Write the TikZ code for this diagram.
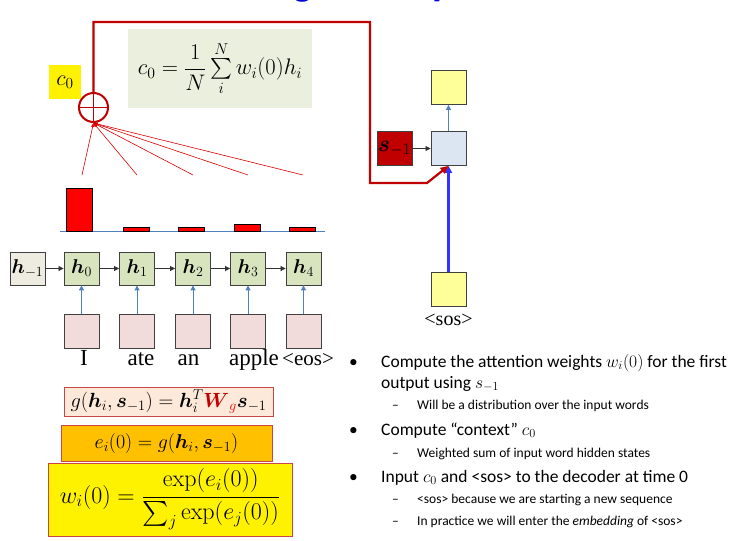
\RequirePackage{fix-cm}
\documentclass[tikz,border=0pt]{standalone}
\usepackage{amsmath,bm}
\usepackage[no-math]{fontspec}
\setmainfont{Carlito}
\newfontfamily\tms{Liberation Serif}
\usetikzlibrary{arrows.meta}
\definecolor{dred}{RGB}{192,0,0}
\definecolor{hgreen}{RGB}{215,228,189}
\definecolor{hbeige}{RGB}{238,236,225}
\definecolor{inpink}{RGB}{242,220,219}
\definecolor{steel}{RGB}{79,129,189}
\definecolor{fbox}{RGB}{235,240,222}
\definecolor{gpink}{RGB}{253,233,217}
\definecolor{eorange}{RGB}{255,192,0}
\definecolor{bred}{RGB}{200,70,70}
\definecolor{lyel}{RGB}{255,255,153}
\definecolor{dblue}{RGB}{220,230,242}
\definecolor{tblue}{RGB}{0,0,210}
\definecolor{sosblue}{RGB}{51,51,255}
\begin{document}
\begin{tikzpicture}[x=1pt,y=-1pt,
  cell/.style={draw=black!75, line width=0.8pt, minimum width=35, minimum height=34, inner sep=0},
  hcell/.style={cell, fill=hgreen, minimum height=33, font=\fontsize{20}{22}\selectfont},
  incell/.style={cell, fill=inpink},
  word/.style={font=\tms\fontsize{23}{26}\selectfont, inner sep=0, anchor=base},
  harr/.style={draw=black!80, line width=0.7pt, -{Triangle[length=5pt,width=5pt]}},
  varr/.style={draw=steel, line width=0.9pt, -{Triangle[length=5pt,width=5pt]}},
  fan/.style={draw=red!85!black, line width=0.6pt, -{Triangle[length=4pt,width=3pt]}},
  bar/.style={fill=red, draw=black, line width=0.6pt},
  eqbox/.style={draw=bred, line width=0.8pt, inner sep=0},
  main/.style={font=\fontsize{17.5}{20}\selectfont, anchor=base west, inner sep=0},
  sub/.style={font=\fontsize{13.5}{16}\selectfont, anchor=base west, inner sep=0},
  ttl/.style={font=\bfseries\fontsize{40}{44}\selectfont, text=tblue, anchor=base, inner sep=0}
]
\useasboundingbox (0,0) rectangle (735,540);
% clipped title fragment
\node[ttl] (tg) at (303,-4) {g};
\node[ttl] (tp) at (443,-4) {p};

% formula box
\node[fill=fbox, minimum width=184, minimum height=79, inner sep=0, font=\fontsize{22.5}{26}\selectfont] (fbx) at (220,68.5)
  {$c_0=\dfrac{1}{N}\sum\limits_{i}^{N} w_i(0)h_i$};
% c0 label
\node[fill=yellow, minimum width=32, minimum height=34, inner sep=0, font=\fontsize{22}{24}\selectfont] (c0) at (65,82) {$c_0$};
% sum circle
\node[circle, draw=dred, line width=2pt, minimum size=29, inner sep=0] (circ) at (93.5,107.5) {};
\draw[dred, line width=1.6pt] (circ.north) -- (circ.south) (circ.west) -- (circ.east);

% bars
\draw[steel, line width=0.8pt] (60,231) coordinate (bl) -- (325,231) coordinate (br);
\draw[bar] (66,188) rectangle (92,231);
\draw[bar] (123,227) rectangle (149,231);
\draw[bar] (178,227) rectangle (204,231);
\draw[bar] (234,224) rectangle (260,231);
\draw[bar] (289,227) rectangle (315,231);
% fan
\coordinate (f0) at (82,175);
\coordinate (f1) at (137,175);
\coordinate (f2) at (193,175);
\coordinate (f3) at (248,175);
\coordinate (f4) at (303,175);
\foreach \k in {0,...,4} \draw[fan] (f\k) -- (circ.south);

% encoder
\node[hcell, fill=hbeige] (hm) at (27.5,268.5) {$\bm{h}_{-1}$};
\node[hcell] (h0) at (81.5,268.5) {$\bm{h}_0$};
\node[hcell] (h1) at (137,268.5) {$\bm{h}_1$};
\node[hcell] (h2) at (193,268.5) {$\bm{h}_2$};
\node[hcell] (h3) at (248,268.5) {$\bm{h}_3$};
\node[hcell] (h4) at (303.5,268.5) {$\bm{h}_4$};
\draw[harr] (hm) -- (h0);
\draw[harr] (h0) -- (h1);
\draw[harr] (h1) -- (h2);
\draw[harr] (h2) -- (h3);
\draw[harr] (h3) -- (h4);
\node[incell] (x0) at (81.5,331) {};
\node[incell] (x1) at (137,331) {};
\node[incell] (x2) at (193,331) {};
\node[incell] (x3) at (248,331) {};
\node[incell] (x4) at (303.5,331) {};
\foreach \k in {0,...,4} \draw[varr] (x\k) -- (h\k);
\node[word] (w0) at (84,365) {I};
\node[word] (w1) at (141,365) {ate};
\node[word] (w2) at (188.5,365) {an};
\node[word] (w3) at (254,365) {apple};
\node[word, font=\tms\fontsize{21}{24}\selectfont] (w4) at (308,365) {<eos>};

% decoder
\node[cell, fill=lyel] (out) at (448.5,87.5) {};
\node[cell, fill=dblue] (dec) at (448.5,148.5) {};
\node[cell, fill=dred, font=\fontsize{23}{24}\selectfont] (sm) at (394.5,148.5) {$\bm{s}_{-1}$};
\node[cell, fill=lyel] (sos) at (448.5,289.5) {};
\node[font=\tms\fontsize{20}{22}\selectfont, inner sep=0] (sost) at (448.5,320) {<sos>};
\draw[harr] (sm) -- (dec);
\draw[varr] (dec) -- (out);
\draw[sosblue, line width=2.2pt, -{Triangle[length=7pt,width=7pt]}] (sos) -- (dec);
\coordinate (r1) at (370,22);
\coordinate (r2) at (370,183);
\coordinate (r3) at (427,183);
\draw[dred, line width=2.2pt, line join=miter, -{Triangle[length=8pt,width=7pt]}] (circ.north) |- (r1) -- (r2) -- (r3) -- (dec.south);

% equation boxes
\node[eqbox, fill=gpink, minimum width=209, minimum height=29, font=\fontsize{20.5}{22}\selectfont] (gb) at (168.5,401.5)
  {$g(\bm{h}_i,\bm{s}_{-1})=\bm{h}_i^T\textcolor{dred}{\bm{W}}_{\textcolor{red}{g}}\bm{s}_{-1}$};
\node[eqbox, fill=eorange, minimum width=211, minimum height=36, font=\fontsize{20}{24}\selectfont] (eb) at (166.5,443)
  {$e_i(0)=g(\bm{h}_i,\bm{s}_{-1})$};
\node[eqbox, fill=yellow, minimum width=244, minimum height=73, font=\fontsize{24}{28}\selectfont] (wb) at (170,499.5)
  {$w_i(0)=\dfrac{\exp(e_i(0))}{\sum_j\exp(e_j(0))}$};

% bullets
\node[main] (b1) at (349,367) {\textbullet};
\node[main] (t1) at (381,367) {Compute the attention weights $w_i(0)$ for the first};
\node[main] (t1b) at (381,388) {output using $s_{-1}$};
\node[sub] (d1) at (392,409) {--};
\node[sub] (u1) at (417,409) {Will be a distribution over the input words};
\node[main] (b2) at (349,435) {\textbullet};
\node[main] (t2) at (381,435) {Compute “context” $c_0$};
\node[sub] (d2) at (392,457) {--};
\node[sub] (u2) at (417,457) {Weighted sum of input word hidden states};
\node[main] (b3) at (349,482) {\textbullet};
\node[main] (t3) at (381,482) {Input $c_0$ and <sos> to the decoder at time 0};
\node[sub] (d3) at (392,503) {--};
\node[sub] (u3) at (417,503) {<sos> because we are starting a new sequence};
\node[sub] (d4) at (392,525) {--};
\node[sub] (u4) at (417,525) {In practice we will enter the \textit{embedding} of <sos>};
\end{tikzpicture}
\end{document}
